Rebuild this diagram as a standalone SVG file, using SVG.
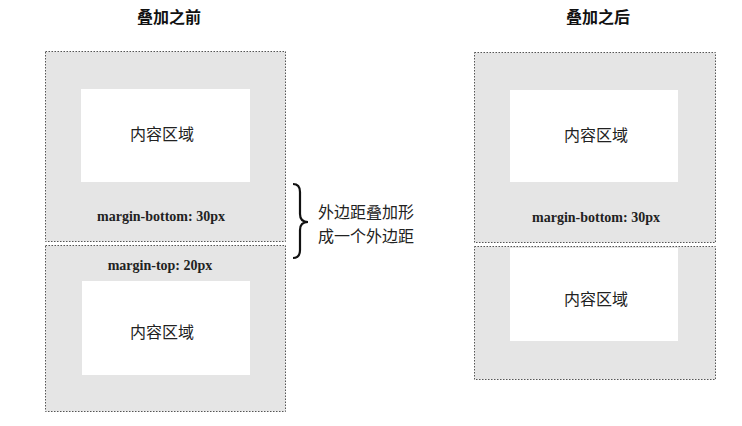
<svg xmlns="http://www.w3.org/2000/svg" width="742" height="426" viewBox="0 0 742 426">
<style>
.box{fill:#e5e5e5;stroke:#555;stroke-width:1;stroke-dasharray:1.5 1.5}
.content{fill:#ffffff}
.title{font-family:"Noto Sans CJK SC","Liberation Sans",sans-serif;font-weight:bold;font-size:16px;fill:#111;text-anchor:middle}
.cjk{font-family:"Liberation Serif","Noto Sans CJK SC",serif;font-size:16px;fill:#222;text-anchor:middle}
.mg{font-family:"Liberation Serif",serif;font-weight:bold;font-size:14px;fill:#222;text-anchor:middle}
.note{font-family:"Liberation Serif","Noto Sans CJK SC",serif;font-size:16px;fill:#222}
</style>
<rect width="742" height="426" fill="#ffffff"/>
<g id="title-before"><text class="title" x="169" y="23">叠加之前</text></g>
<g id="title-after"><text class="title" x="598" y="23">叠加之后</text></g>

<g id="before-top">
<rect class="box" x="45.5" y="51.5" width="240" height="190"/>
<rect class="content" x="81" y="89" width="169" height="93"/>
<text class="cjk" x="162" y="140">内容区域</text>
<text class="mg" x="161" y="221">margin-bottom: 30px</text>
</g>
<g id="before-bottom">
<rect class="box" x="45.5" y="245.5" width="240" height="166"/>
<rect class="content" x="82" y="281" width="168" height="94"/>
<text class="mg" x="160" y="270">margin-top: 20px</text>
<text class="cjk" x="162" y="338">内容区域</text>
</g>

<g id="after-top">
<rect class="box" x="474.5" y="52.5" width="241" height="190"/>
<rect class="content" x="510" y="90" width="168" height="92"/>
<text class="cjk" x="596" y="141">内容区域</text>
<text class="mg" x="596" y="222">margin-bottom: 30px</text>
</g>
<g id="after-bottom">
<rect class="box" x="474.5" y="246.5" width="241" height="133"/>
<rect class="content" x="510" y="248" width="168" height="93"/>
<text class="cjk" x="596" y="305">内容区域</text>
</g>

<g id="connectors">
<path d="M293,184 Q300,184 300,192 L300,214 Q300,222 308,222 Q300,222 300,230 L300,250 Q300,258 293,258" fill="none" stroke="#111" stroke-width="2.2"/>
</g>
<g id="note">
<text class="note" x="318" y="218">外边距叠加形</text>
<text class="note" x="318" y="242">成一个外边距</text>
</g>
</svg>
